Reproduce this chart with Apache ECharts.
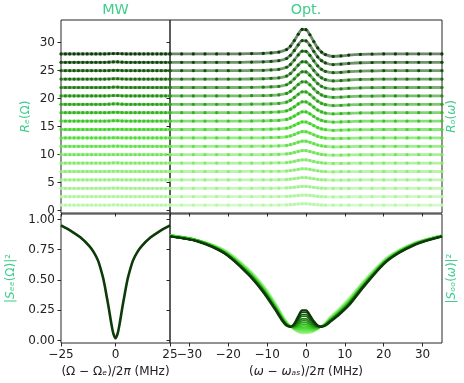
<!DOCTYPE html>
<html>
<head>
<meta charset="utf-8">
<script src="https://cdn.jsdelivr.net/npm/echarts@6/dist/echarts.min.js"></script>
<style>
  html, body { margin: 0; padding: 0; background: #fff; }
  #chart { width: 464px; height: 383px; }
</style>
</head>
<body>
<div id="chart"></div>
<script>
// vertical offsets of the 19 stacked traces (top panels)
const offsets = [0, 1.5, 3, 4.5, 6, 7.5, 9, 10.5, 12, 13.5, 15, 16.5, 18, 19.5, 21, 22.5, 24, 25.5, 27];

// MW reflection, detuning (MHz)
const mwX = [-25, -23, -21, -19, -17, -15, -13, -11, -9, -7, -5, -3, -1, 1, 3, 5, 7, 9, 11, 13, 15, 17, 19, 21, 23, 25];
const mwR = [
  [1,1,1,1,1,1,1,1,1,1,1,1.01,1.03,1.03,1.01,1,1,1,1,1,1,1,1,1,1,1],
  [1,1,1,1,1,1,1,1,1,1,1,1.01,1.03,1.03,1.01,1,1,1,1,1,1,1,1,1,1,1],
  [1,1,1,1,1,1,1,1,1,1,1,1.01,1.03,1.03,1.01,1,1,1,1,1,1,1,1,1,1,1],
  [1,1,1,1,1,1,1,1,1,1,1,1.01,1.03,1.03,1.01,1,1,1,1,1,1,1,1,1,1,1],
  [1,1,1,1,1,1,1,1,1,1,1,1.01,1.03,1.03,1.01,1,1,1,1,1,1,1,1,1,1,1],
  [1,1,1,1,1,1,1,1,1,1,1,1.01,1.03,1.03,1.01,1,1,1,1,1,1,1,1,1,1,1],
  [1,1,1,1,1,1,1,1,1,1,1,1.01,1.03,1.03,1.01,1,1,1,1,1,1,1,1,1,1,1],
  [1,1,1,1,1,1,1,1,1,1,1,1.01,1.03,1.03,1.01,1,1,1,1,1,1,1,1,1,1,1],
  [1,1,1,1,1,1,1,1,1,1,1,1.01,1.03,1.03,1.01,1,1,1,1,1,1,1,1,1,1,1],
  [1,1,1,1,1,1,1,1,1,1,1,1.01,1.03,1.03,1.01,1,1,1,1,1,1,1,1,1,1,1],
  [1,1,1,1,1,1,1,1,1,1,1,1.02,1.06,1.06,1.02,1,1,1,1,1,1,1,1,1,1,1],
  [1,1,1,1,1,1,1,1,1,1,1,1.02,1.06,1.06,1.02,1,1,1,1,1,1,1,1,1,1,1],
  [1,1,1,1,1,1,1,1,1,1,1,1.02,1.06,1.06,1.02,1,1,1,1,1,1,1,1,1,1,1],
  [1,1,1,1,1,1,1,1,1,1,1,1.02,1.06,1.06,1.02,1,1,1,1,1,1,1,1,1,1,1],
  [1,1,1,1,1,1,1,1,1,1,1,1.02,1.06,1.06,1.02,1,1,1,1,1,1,1,1,1,1,1],
  [1,1,1,1,1,1,1,1,1,1,1,1.02,1.06,1.06,1.02,1,1,1,1,1,1,1,1,1,1,1],
  [1,1,1,1,1,1,1,1,1,1,1,1.02,1.06,1.06,1.02,1,1,1,1,1,1,1,1,1,1,1],
  [1,1,1,1,1,1,1,1,1,1,1,1.02,1.06,1.06,1.02,1,1,1,1,1,1,1,1,1,1,1],
  [1,1,1,1,1,1,1,1,1,1,1,1.02,1.06,1.06,1.02,1,1,1,1,1,1,1,1,1,1,1]
];

// optical reflection, detuning (MHz)
const optX = [-35, -32, -29, -26, -23, -20, -17, -14, -11, -9, -7, -5, -4, -3, -2, -1, 0, 1, 2, 3, 4, 5, 7, 9, 11, 14, 17, 20, 23, 26, 29, 32, 35];
const optR = [
  [1,1,1,1,1,1,1, 1,1.01,1.01,1.02,1.04,1.08,1.13,1.2,1.24,1.24,1.19,1.12,1.06,1.02,.99,.98,.98,.99,1,1, 1,1,1,1,1,1],
  [1,1,1,1,1,1,1, 1,1.01,1.01,1.02,1.05,1.09,1.16,1.23,1.29,1.29,1.23,1.15,1.07,1.02,.99,.97,.98,.99,.99,1, 1,1,1,1,1,1],
  [1,1,1,1,1,1,1, 1,1.01,1.01,1.02,1.06,1.11,1.19,1.27,1.34,1.34,1.27,1.17,1.08,1.02,.99,.97,.97,.98,.99,1, 1,1,1,1,1,1],
  [1,1,1,1,1,1,1, 1,1.01,1.02,1.03,1.07,1.13,1.22,1.33,1.41,1.4,1.32,1.21,1.1,1.03,.99,.96,.97,.98,.99,1, 1,1,1,1,1,1],
  [1,1,1,1,1,1,1, 1.01,1.01,1.02,1.04,1.09,1.16,1.27,1.39,1.49,1.48,1.38,1.25,1.12,1.04,.99,.95,.96,.98,.99,1, 1,1,1,1,1,1],
  [1,1,1,1,1,1,1, 1.01,1.01,1.02,1.04,1.1,1.19,1.32,1.47,1.58,1.58,1.46,1.29,1.14,1.04,.98,.94,.95,.97,.99,.99, 1,1,1,1,1,1],
  [1,1,1,1,1,1,1, 1.01,1.02,1.03,1.05,1.13,1.23,1.4,1.59,1.73,1.72,1.57,1.37,1.18,1.05,.98,.93,.94,.96,.99,.99, 1,1,1,1,1,1],
  [1,1,1,1,1,1,1, 1.01,1.02,1.04,1.07,1.16,1.29,1.5,1.74,1.92,1.91,1.72,1.47,1.23,1.07,.97,.91,.92,.95,.98,.99, 1,1,1,1,1,1],
  [1,1,1,1,1,1,1, 1.01,1.02,1.05,1.08,1.2,1.36,1.61,1.9,2.12,2.1,1.87,1.56,1.28,1.08,.97,.89,.91,.94,.98,.99, 1,1,1,1,1,1],
  [1,1,1,1,1,1,1, 1.01,1.03,1.06,1.1,1.24,1.43,1.74,2.09,2.36,2.34,2.06,1.69,1.34,1.1,.96,.86,.89,.93,.97,.99, 1,1,1,1,1,1],
  [1,1,1,1,1,1,1, 1.02,1.03,1.07,1.12,1.29,1.53,1.9,2.33,2.65,2.63,2.29,1.83,1.41,1.12,.95,.83,.86,.92,.97,.98, 1,1,1,1,1,1],
  [1,1,1,1,1,1,1, 1.02,1.04,1.08,1.14,1.34,1.62,2.06,2.56,2.94,2.92,2.52,1.98,1.48,1.14,.94,.8,.84,.9,.96,.98, 1,1,1,1,1,1],
  [1,1,1,1,1,1,1, 1.02,1.05,1.09,1.16,1.39,1.71,2.22,2.79,3.23,3.21,2.75,2.13,1.55,1.16,.93,.77,.82,.89,.95,.98, 1,1,1,1,1,1],
  [1,1,1,1,1,1,1, 1.03,1.05,1.1,1.18,1.44,1.81,2.38,3.03,3.52,3.5,2.98,2.27,1.62,1.18,.92,.74,.79,.87,.95,.97, 1,1,1,1,1,1],
  [1,1,1,1,1,1,1, 1.03,1.06,1.12,1.2,1.49,1.9,2.54,3.26,3.81,3.78,3.2,2.42,1.7,1.2,.91,.71,.77,.86,.94,.97, 1,1,1,1,1,1],
  [1,1,1,1,1,1,1, 1.03,1.06,1.13,1.22,1.54,1.99,2.7,3.5,4.1,4.07,3.43,2.57,1.77,1.22,.9,.68,.74,.84,.94,.97, 1,1,1,1,1,1],
  [1,1,1,1,1,1,1, 1.04,1.07,1.14,1.25,1.61,2.12,2.91,3.81,4.49,4.46,3.74,2.76,1.86,1.25,.89,.64,.71,.82,.93,.96, 1,1,1,1,1,1],
  [1,1,1,1,1,1,1, 1.04,1.08,1.16,1.28,1.68,2.24,3.12,4.12,4.88,4.84,4.04,2.96,1.96,1.28,.88,.6,.68,.8,.92,.96, 1,1,1,1,1,1],
  [1,1,1,1,1,1,1, 1.05,1.09,1.18,1.32,1.77,2.4,3.39,4.51,5.37,5.32,4.42,3.21,2.08,1.32,.87,.55,.64,.78,.91,.96, 1,1,1,1,1,1]
];

// |S_ee|^2 (MW transmission)
const seeX = [-25, -20, -16, -12, -10, -8, -6, -5, -4, -3, -2, -1, 0, 1, 2, 3, 4, 5, 6, 8, 10, 12, 16, 20, 25];
const seeY = [.95, .9, .85, .78, .73, .66, .54, .46, .36, .26, .15, .06, .02, .06, .15, .26, .36, .46, .54, .66, .73, .78, .85, .9, .95];

// |S_oo|^2 (optical transmission), one row per trace
const sooX = [-35, -28, -21, -15, -11, -8, -6, -5, -4, -3, -2, -1, 0, 1, 2, 3, 4, 5, 6, 8, 11, 15, 21, 28, 35];
const sooY = [
  [.87,.835,.75,.60,.46,.32,.21,.16,.12,.09,.07,.06,.06,.065,.075,.095,.12,.15,.19,.25,.35,.50,.69,.81,.87],
  [.87,.83,.75,.597,.457,.317,.207,.158,.12,.09,.071,.062,.062,.066,.076,.095,.12,.149,.188,.247,.347,.497,.69,.81,.87],
  [.87,.83,.75,.594,.453,.313,.204,.156,.12,.091,.073,.065,.065,.069,.077,.096,.12,.147,.186,.244,.343,.494,.69,.81,.87],
  [.87,.83,.74,.592,.45,.31,.202,.154,.12,.092,.075,.068,.068,.071,.079,.096,.12,.146,.183,.242,.34,.492,.685,.81,.87],
  [.87,.83,.74,.589,.447,.307,.199,.152,.12,.093,.078,.072,.072,.074,.08,.097,.12,.144,.181,.239,.337,.489,.685,.805,.87],
  [.87,.83,.74,.586,.443,.303,.196,.15,.12,.094,.082,.077,.077,.078,.083,.098,.12,.143,.179,.236,.333,.486,.68,.805,.87],
  [.87,.83,.74,.583,.44,.30,.193,.148,.12,.096,.086,.083,.083,.082,.085,.099,.12,.142,.177,.233,.33,.483,.68,.805,.87],
  [.87,.83,.74,.581,.437,.297,.191,.146,.118,.098,.091,.09,.09,.088,.089,.10,.118,.14,.174,.231,.327,.481,.68,.805,.87],
  [.87,.83,.74,.578,.433,.293,.188,.144,.118,.10,.097,.10,.10,.095,.093,.101,.118,.139,.172,.228,.323,.478,.675,.80,.87],
  [.86,.83,.73,.575,.43,.29,.185,.143,.118,.103,.104,.109,.109,.103,.097,.103,.118,.138,.17,.225,.32,.475,.675,.80,.86],
  [.86,.83,.73,.572,.427,.287,.182,.141,.118,.106,.112,.121,.121,.111,.102,.105,.118,.136,.168,.222,.317,.472,.675,.80,.86],
  [.86,.83,.73,.569,.423,.283,.179,.139,.117,.11,.121,.134,.134,.122,.108,.107,.117,.135,.166,.219,.313,.469,.67,.80,.86],
  [.86,.82,.73,.567,.42,.28,.177,.137,.117,.114,.131,.149,.149,.133,.115,.109,.117,.133,.163,.217,.31,.467,.67,.80,.86],
  [.86,.82,.73,.564,.417,.277,.174,.135,.117,.118,.142,.165,.165,.145,.122,.112,.117,.132,.161,.214,.307,.464,.67,.795,.86],
  [.86,.82,.73,.561,.413,.273,.171,.133,.116,.122,.152,.18,.18,.156,.129,.114,.116,.131,.159,.211,.303,.461,.665,.795,.86],
  [.86,.82,.72,.558,.41,.27,.168,.131,.116,.127,.166,.201,.201,.172,.138,.117,.116,.129,.157,.208,.30,.458,.665,.795,.86],
  [.86,.82,.72,.556,.407,.267,.166,.129,.116,.131,.177,.216,.216,.184,.145,.12,.116,.128,.154,.206,.297,.456,.665,.79,.86],
  [.86,.82,.72,.553,.403,.263,.163,.127,.115,.136,.19,.235,.235,.198,.153,.123,.115,.126,.152,.203,.293,.453,.66,.79,.86],
  [.86,.82,.72,.55,.40,.26,.16,.125,.115,.14,.20,.25,.25,.21,.16,.125,.115,.125,.15,.20,.29,.45,.66,.79,.86]
];

// tick values
const mwTicks = [-25, 0, 25];
const optTicks = [-30, -20, -10, 0, 10, 20, 30];
const rTicks = [0, 5, 10, 15, 20, 25, 30];
const sTicks = [0, 0.25, 0.5, 0.75, 1];

// light -> dark green, one per trace
const colors = [
  "#b8f7a8", "#aef59c", "#a3f290", "#98f084", "#8ced77", "#80ea69", "#72e65a",
  "#63e24b", "#54dd3b", "#45d62d", "#3ac824", "#32b61e", "#2ba31a", "#259016",
  "#1f7e13", "#1a6c10", "#155b0d", "#104a0a", "#0c3a08"
];

const labelColor = "#3fcc8c";
const font = "DejaVu Sans";
const minus = (v) => String(v).replace("-", "\u2212");

const chart = echarts.init(document.getElementById("chart"));

const grids = [
  { left: 61, top: 20, width: 109, height: 193 },
  { left: 170, top: 20, width: 272, height: 193 },
  { left: 61, top: 214, width: 109, height: 129 },
  { left: 170, top: 214, width: 272, height: 129 },
].map((g) => ({ ...g, show: true, borderColor: "#262626", borderWidth: 1, containLabel: false }));

function xAxis(gridIndex, min, max, ticks, labels) {
  return {
    type: "value", gridIndex, min, max,
    axisLine: { show: false, onZero: false },
    splitLine: { show: false },
    axisTick: { show: true, inside: false, length: 3.5, customValues: ticks, lineStyle: { color: "#262626" } },
    axisLabel: {
      show: labels, customValues: ticks, margin: 6, fontSize: 12, fontFamily: font, color: "#222",
      formatter: minus,
    },
  };
}

function yAxis(gridIndex, min, max, ticks, labels, fmt) {
  return {
    type: "value", gridIndex, min, max,
    axisLine: { show: false, onZero: false },
    splitLine: { show: false },
    axisTick: { show: true, inside: false, length: 3.5, customValues: ticks, lineStyle: { color: "#262626" } },
    axisLabel: {
      show: labels, customValues: ticks, margin: 6, fontSize: 12, fontFamily: font, color: "#222",
      formatter: fmt,
    },
  };
}

const series = [];
for (let k = 0; k < offsets.length; k++) {
  const c = colors[k];
  const dotted = {
    type: "line", smooth: 0.3, symbol: "circle", symbolSize: 3.2, showSymbol: true,
    lineStyle: { width: 2.8, color: c, opacity: 0.6 },
    itemStyle: { color: c, borderWidth: 0 },
    silent: true, animation: false,
  };
  series.push({ ...dotted, xAxisIndex: 0, yAxisIndex: 0, data: mwX.map((x, i) => [x, mwR[k][i] + offsets[k]]) });
  series.push({ ...dotted, xAxisIndex: 1, yAxisIndex: 1, data: optX.map((x, i) => [x, optR[k][i] + offsets[k]]) });
  series.push({
    type: "line", smooth: 0.3, showSymbol: false, silent: true, animation: false,
    xAxisIndex: 3, yAxisIndex: 3,
    lineStyle: { width: k === offsets.length - 1 ? 2.4 : 1.6, color: c },
    data: sooX.map((x, i) => [x, sooY[k][i]]),
  });
}
series.push({
  type: "line", smooth: 0.3, showSymbol: false, silent: true, animation: false,
  xAxisIndex: 2, yAxisIndex: 2,
  lineStyle: { width: 2.6, color: colors[colors.length - 1] },
  data: seeX.map((x, i) => [x, seeY[i]]),
});

function text(x, y, str, size, rotate) {
  return {
    type: "text", x, y, rotation: rotate ? Math.PI / 2 : 0, silent: true,
    style: {
      text: str, fill: labelColor,
      fontSize: size, fontFamily: font, align: "center", verticalAlign: "middle",
      rich: { i: { fontStyle: "italic", fontSize: size, fontFamily: font, fill: labelColor } },
    },
  };
}
function xlabel(x, y, str) {
  return {
    type: "text", x, y, silent: true,
    style: {
      text: str, fill: "#222", fontSize: 12, fontFamily: font, align: "center", verticalAlign: "middle",
      rich: { i: { fontStyle: "italic", fontSize: 12, fontFamily: font, fill: "#222" } },
    },
  };
}

chart.setOption({
  animation: false,
  grid: grids,
  xAxis: [
    xAxis(0, -25, 25, mwTicks, false),
    xAxis(1, -35, 35, optTicks, false),
    xAxis(2, -25, 25, mwTicks, true),
    xAxis(3, -35, 35, optTicks, true),
  ],
  yAxis: [
    yAxis(0, -0.41, 34.05, rTicks, true, (v) => String(v)),
    yAxis(1, -0.41, 34.05, rTicks, false),
    yAxis(2, -0.019, 1.0445, sTicks, true, (v) => v.toFixed(2)),
    yAxis(3, -0.019, 1.0445, sTicks, false),
  ],
  series,
  graphic: [
    text(115.5, 10, "MW", 14.4, false),
    text(306, 10, "Opt.", 14.4, false),
    text(26, 116.5, "{i|R\u2091}(\u03A9)", 12, true),
    text(11, 278.5, "|{i|S\u2091\u2091}(\u03A9)|\u00B2", 12, true),
    text(452, 116.5, "{i|R\u2092}({i|\u03C9})", 12, true),
    text(452, 278.5, "|{i|S\u2092\u2092}({i|\u03C9})|\u00B2", 12, true),
    xlabel(115.5, 372, "(\u03A9 \u2212 \u03A9{i|\u2091})/2{i|\u03C0} (MHz)"),
    xlabel(306, 372, "({i|\u03C9} \u2212 {i|\u03C9\u2090\u209B})/2{i|\u03C0} (MHz)"),
  ],
});
</script>
</body>
</html>
